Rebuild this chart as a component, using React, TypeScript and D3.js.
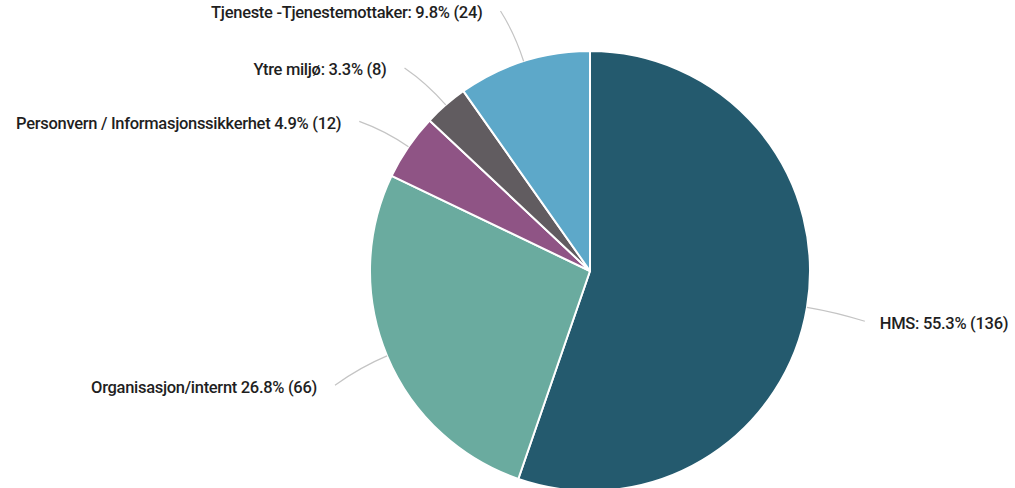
import React, { useEffect, useRef } from "react";
import * as d3 from "d3";

const categories = [
  "HMS",
  "Organisasjon/internt",
  "Personvern / Informasjonssikkerhet",
  "Ytre miljø",
  "Tjeneste -Tjenestemottaker",
];
const counts = [136, 66, 12, 8, 24];
const percents = ["55.3%", "26.8%", "4.9%", "3.3%", "9.8%"];
const colors = ["#245a6e", "#6aab9f", "#8f5485", "#615c60", "#5da8c9"];
// some labels in the source have a colon after the name, some not
const separators = [": ", " ", " ", ": ", ": "];

interface Slice {
  name: string;
  value: number;
  pct: string;
  color: string;
  sep: string;
}

const App: React.FC = () => {
  const svgRef = useRef<SVGSVGElement>(null);

  useEffect(() => {
    if (!svgRef.current) return;
    const svg = d3.select(svgRef.current);
    svg.selectAll("*").remove();

    const width = 1015;
    const height = 488;
    const cx = 590;
    const cy = 271;
    const radius = 220;

    const data: Slice[] = categories.map((c, i) => ({
      name: c,
      value: counts[i],
      pct: percents[i],
      color: colors[i],
      sep: separators[i],
    }));

    svg.attr("width", width).attr("height", height);

    const g = svg.append("g").attr("transform", `translate(${cx},${cy})`);

    const pie = d3
      .pie<Slice>()
      .value((d) => d.value)
      .sort(null);

    const arc = d3
      .arc<d3.PieArcDatum<Slice>>()
      .innerRadius(0)
      .outerRadius(radius);

    const pieData = pie(data);

    g.selectAll("path.slice")
      .data(pieData)
      .enter()
      .append("path")
      .attr("class", "slice")
      .attr("d", arc)
      .attr("fill", (d) => d.data.color)
      .attr("stroke", "white")
      .attr("stroke-width", 2)
      .attr("stroke-linejoin", "round");

    const polar = (a: number, r: number): [number, number] => [
      Math.sin(a) * r,
      -Math.cos(a) * r,
    ];

    // leader lines + labels
    pieData.forEach((d) => {
      const mid = (d.startAngle + d.endAngle) / 2;
      const right = Math.sin(mid) > 0;
      const lower = Math.cos(mid) < 0;
      const shift = right ? 0.015 : -0.025;
      const p0 = polar(mid, radius);
      const p1 = polar(mid, radius * 1.13);
      const p2 = polar(mid + shift, radius * (lower ? 1.27 : 1.25));

      const path = d3.path();
      path.moveTo(p0[0], p0[1]);
      path.quadraticCurveTo(p1[0], p1[1], p2[0], p2[1]);

      g.append("path")
        .attr("d", path.toString())
        .attr("fill", "none")
        .attr("stroke", "#c4c4c4")
        .attr("stroke-width", 1.2);

      g.append("text")
        .attr("x", p2[0] + (right ? 15 : -18))
        .attr("y", p2[1] + 3)
        .attr("text-anchor", right ? "start" : "end")
        .attr("dominant-baseline", "middle")
        .style("font-family", "Roboto, 'Noto Sans', sans-serif")
        .style("font-size", "16.5px")
        .style("font-weight", "500")
        .style("letter-spacing", "-0.3px")
        .style("fill", "#1f1f1f")
        .text(`${d.data.name}${d.data.sep}${d.data.pct} (${d.data.value})`);
    });
  }, []);

  return (
    <div style={{ position: "absolute", left: 0, top: 0, background: "#fff" }}>
      <svg ref={svgRef} width={1015} height={488} style={{ display: "block" }} />
    </div>
  );
};

export default App;
